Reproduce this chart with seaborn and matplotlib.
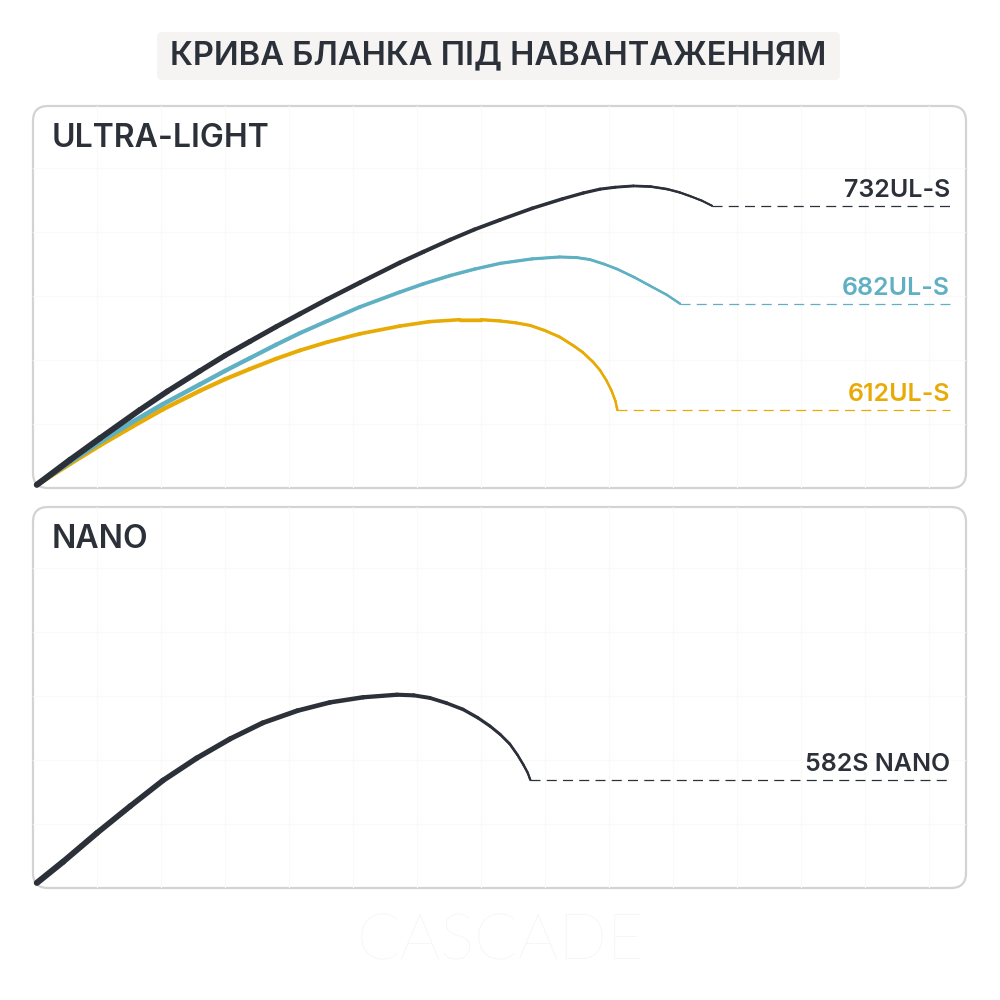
import numpy as np
import pandas as pd
import matplotlib
matplotlib.use('Agg')
import matplotlib.pyplot as plt
import seaborn as sns
from matplotlib.patches import FancyBboxPatch
from matplotlib.collections import LineCollection

# Curve data (grid units: one faint grid cell = 1)
ul_732_x = [0.06, 0.58, 1.05, 1.67, 2.10, 2.61, 3.00, 3.39, 3.80, 4.17, 4.60, 5.11, 5.73, 6.10, 6.52,
            6.90, 7.30, 7.80, 8.28, 8.60, 8.86, 9.10, 9.38, 9.65, 9.91, 10.10, 10.27, 10.45, 10.61]
ul_732_y = [0.05, 0.44, 0.78, 1.22, 1.51, 1.83, 2.07, 2.29, 2.52, 2.72, 2.95, 3.21, 3.52, 3.69, 3.88,
            4.04, 4.19, 4.37, 4.52, 4.61, 4.67, 4.70, 4.72, 4.71, 4.67, 4.62, 4.56, 4.49, 4.41]

ul_682_x = [0.06, 0.58, 1.05, 1.55, 2.03, 2.61, 3.00, 3.39, 3.80, 4.17, 4.60, 5.11, 5.73, 6.10,
            6.52, 6.90, 7.30, 7.80, 8.23, 8.50, 8.70, 8.92, 9.13, 9.40, 9.64, 9.90, 10.11]
ul_682_y = [0.05, 0.41, 0.72, 1.03, 1.31, 1.62, 1.83, 2.03, 2.24, 2.42, 2.61, 2.83, 3.06, 3.19,
            3.32, 3.42, 3.51, 3.58, 3.61, 3.60, 3.57, 3.50, 3.42, 3.29, 3.16, 3.02, 2.88]

ul_612_x = [0.06, 0.58, 1.05, 1.55, 2.03, 2.61, 3.00, 3.39, 3.80, 4.17, 4.60, 5.11, 5.73, 6.20, 6.67,
            7.00, 7.30, 7.55, 7.77, 8.00, 8.23, 8.45, 8.59, 8.75, 8.86, 8.96, 9.04, 9.10, 9.13]
ul_612_y = [0.05, 0.38, 0.67, 0.96, 1.23, 1.52, 1.70, 1.86, 2.02, 2.15, 2.28, 2.41, 2.53, 2.60, 2.63,
            2.63, 2.61, 2.58, 2.54, 2.46, 2.36, 2.22, 2.12, 1.97, 1.84, 1.68, 1.52, 1.36, 1.22]

nano_582_x = [0.06, 0.47, 1.00, 1.52, 2.03, 2.56, 3.08, 3.59, 4.13, 4.64, 5.16, 5.69, 5.95, 6.20,
              6.46, 6.72, 6.95, 7.14, 7.30, 7.45, 7.57, 7.66, 7.73, 7.77]
nano_582_y = [0.08, 0.41, 0.86, 1.28, 1.68, 2.03, 2.33, 2.58, 2.77, 2.90, 2.98, 3.02, 3.01, 2.97,
              2.89, 2.79, 2.66, 2.53, 2.40, 2.25, 2.08, 1.93, 1.80, 1.69]

ul_models = ['732UL-S', '682UL-S', '612UL-S']
nano_models = ['582S NANO']
label_end_x = 14.33

title = 'КРИВА БЛАНКА ПІД НАВАНТАЖЕННЯМ'
panel_titles = ['ULTRA-LIGHT', 'NANO']
watermark = 'CASCADE'

DARK = '#2b3039'
CYAN = '#5fb0c3'
GOLD = '#e8ab06'

sns.set_theme(style='white')
plt.rcParams['font.family'] = ['Inter', 'Noto Sans', 'DejaVu Sans']

fig = plt.figure(figsize=(10, 10), dpi=100)
fig.patch.set_facecolor('white')

# title box
fig.patches.append(FancyBboxPatch((0.157, 0.920), 0.683, 0.048,
                                  boxstyle='round,pad=0,rounding_size=0.005',
                                  transform=fig.transFigure, facecolor='#f5f4f2',
                                  edgecolor='none', zorder=-2))
fig.text(0.4985, 0.944, title, ha='center', va='center', fontsize=23.5,
         fontweight=600, color=DARK)

# watermark
fig.text(0.501, 0.058, watermark, ha='center', va='center', fontsize=46,
         fontweight='light', color='#f6f4f1', family=['Lato', 'DejaVu Sans'])


def make_panel(rect, name):
    # rounded border behind the axes
    x0, y0, w, h = rect
    fig.patches.append(FancyBboxPatch((x0, y0), w, h,
                                      boxstyle='round,pad=0,rounding_size=0.015',
                                      transform=fig.transFigure, facecolor='none',
                                      edgecolor='#d3d3d3', linewidth=1.6, zorder=-1))
    ax = fig.add_axes(rect)
    ax.set_facecolor('none')
    ax.tick_params(left=False, bottom=False, labelleft=False, labelbottom=False)
    for s in ax.spines.values():
        s.set_visible(False)
    fig.text(x0 + 0.019, y0 + h - 0.041, name, ha='left', va='baseline',
             fontsize=23, fontweight=600, color=DARK)
    return ax


def finish_panel(ax, ylim_top):
    ax.set_xlim(0, 14.578)
    ax.set_ylim(0, ylim_top)
    ax.set_xticks(np.arange(1, 15))
    ax.set_yticks(np.arange(1, 6))
    ax.grid(True, color='#faf9f7', linewidth=0.8)
    ax.set_axisbelow(True)
    ax.set_xlabel('')
    ax.set_ylabel('')


def draw_curve(ax, xs, ys, color, w0, w1, label):
    df = pd.DataFrame({'x': xs, 'y': ys})
    sns.lineplot(data=df, x='x', y='y', color=color, linewidth=w1, ax=ax,
                 estimator=None, sort=False, legend=False)
    ln = ax.lines[-1]
    ln.set_clip_on(False)
    ln.set_solid_capstyle('round')
    ln.set_solid_joinstyle('round')
    ln.set_zorder(3)
    # tapered overlay: thick at the butt, thin at the tip
    pts = np.column_stack([xs, ys])
    segs = np.stack([pts[:-1], pts[1:]], axis=1)
    lc = LineCollection(segs, colors=color, linewidths=np.linspace(w0, w1, len(segs)),
                        capstyle='round', joinstyle='round', zorder=3)
    lc.set_clip_on(False)
    ax.add_collection(lc)
    # dashed lead line to the label
    dash = pd.DataFrame({'x': [xs[-1], label_end_x], 'y': [ys[-1], ys[-1]]})
    sns.lineplot(data=dash, x='x', y='y', color=color, linewidth=0.9, ax=ax,
                 legend=False)
    ax.lines[-1].set_dashes((8, 5))
    ax.annotate(label, xy=(label_end_x, ys[-1]), xytext=(0, 6.5),
                textcoords='offset points', ha='right', va='baseline',
                fontsize=18, fontweight=600, color=color)


ax1 = make_panel([0.033, 0.512, 0.933, 0.382], panel_titles[0])
draw_curve(ax1, ul_612_x, ul_612_y, GOLD, 3.4, 1.6, ul_models[2])
draw_curve(ax1, ul_682_x, ul_682_y, CYAN, 3.6, 1.6, ul_models[1])
draw_curve(ax1, ul_732_x, ul_732_y, DARK, 4.4, 1.4, ul_models[0])
finish_panel(ax1, 5.969)

ax2 = make_panel([0.033, 0.112, 0.933, 0.381], panel_titles[1])
draw_curve(ax2, nano_582_x, nano_582_y, DARK, 4.4, 1.5, nano_models[0])
finish_panel(ax2, 5.953)

fig.savefig('out.png', dpi=100, facecolor='white')
